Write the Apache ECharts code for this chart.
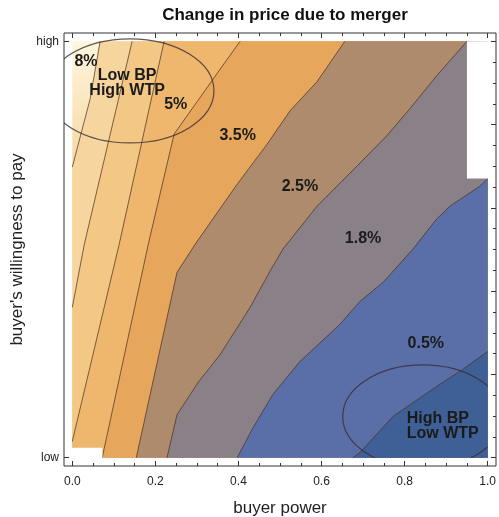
<!DOCTYPE html>
<html>
<head>
<meta charset="utf-8">
<script src="https://cdn.jsdelivr.net/npm/echarts@6/dist/echarts.min.js"></script>
<style>
    html, body { margin: 0; padding: 0; background: #fff; }
    #chart { width: 499px; height: 517px; }
</style>
</head>
<body>
<div id="chart"></div>
<script>
// contour boundaries as [buyer power, willingness to pay], traced from the top/right edge down to the left/bottom edge
const contour1 = [[0.067, 1.0], [0.043, 0.862], [0, 0.698]];
const contour2 = [[0.144, 1.0], [0.029, 0.513], [0, 0.361]];
const contour3 = [[0.221, 1.0], [0.113, 0.513], [0, 0.039]];
const contour4 = [[0.404, 1.0], [0.365, 0.946], [0.245, 0.777], [0.183, 0.513], [0.072, 0]];
const contour5 = [[0.656, 1.0], [0.589, 0.903], [0.524, 0.833], [0.469, 0.753], [0.397, 0.657], [0.296, 0.513], [0.252, 0.445], [0.154, 0]];
const contour6 = [[0.950, 1.0], [0.877, 0.917], [0.8125, 0.838], [0.757, 0.773], [0.685, 0.700], [0.589, 0.604], [0.507, 0.501], [0.476, 0.448], [0.428, 0.361], [0.356, 0.248], [0.303, 0.181], [0.252, 0.103], [0.228, 0]];
const contour7 = [[1.0, 0.67], [0.981, 0.652], [0.909, 0.604], [0.877, 0.573], [0.820, 0.501], [0.748, 0.421], [0.692, 0.375], [0.644, 0.320], [0.548, 0.231], [0.483, 0.152], [0.435, 0.072], [0.397, 0]];
const contour8 = [[1.0, 0.255], [0.940, 0.212], [0.877, 0.171], [0.772, 0.099], [0.692, 0.012], [0.675, 0]];

// areas of the plot with no data: [x0, y0, x1, y1]
const missingAreas = [[0.95, 0.673, 1.0, 1.0], [-0.005, 0, 0.07, 0.024]];

// price change labels and where they sit
const bandLabels = ['8%', '5%', '3.5%', '2.5%', '1.8%', '0.5%'];
const bandLabelPos = [[0.033, 0.952], [0.249, 0.847], [0.398, 0.774], [0.548, 0.650], [0.700, 0.525], [0.851, 0.274]];

// highlighted regions: [cx, cy, rx, ry]
const regionNames = ['Low BP\nHigh WTP', 'High BP\nLow WTP'];
const regionNamePos = [[0.132, 0.900], [0.805, 0.075]];
const regionEllipses = [[0.139, 0.881, 0.202, 0.125], [0.844, 0.099, 0.193, 0.124]];

const xTickValues = [0, 0.2, 0.4, 0.6, 0.8, 1.0];
const xMinorTicks = [0.05, 0.1, 0.15, 0.25, 0.3, 0.35, 0.45, 0.5, 0.55, 0.65, 0.7, 0.75, 0.85, 0.9, 0.95];
const yTickValues = [0, 1];
const yTickLabels = ['low', 'high'];

const contours = [contour1, contour2, contour3, contour4, contour5, contour6, contour7, contour8];

const font = "'Liberation Sans', Arial, sans-serif";
const bandColors = ['#fdf2d4', '#f6d59e', '#f3c784', '#eeb76d', '#e6a65c', '#ae8b6d', '#8a8088', '#5a6fa7', '#3f5f97'];
const lineColor = 'rgba(70, 45, 30, 0.7)';

// close a contour line round the lower right corner of the data area
function lowerRight(line) {
    const pts = line.slice();
    const s = line[0], e = line[line.length - 1];
    if (e[0] === 0) pts.push([0, 0]);
    pts.push([1, 0]);
    if (s[1] === 1) pts.push([1, 1]);
    return pts;
}

function frameAxis(pos, values, len, labels) {
    return {
        type: 'value', min: -0.02, max: 1.02, position: pos,
        axisLine: { show: false, onZero: false },
        splitLine: { show: false },
        axisTick: { inside: true, length: len, customValues: values, lineStyle: { color: '#333', width: 1 } },
        axisLabel: labels ? Object.assign({ customValues: values, color: '#222', fontSize: 12, fontFamily: font }, labels) : { show: false }
    };
}

const myChart = echarts.init(document.getElementById('chart'));

const xBottom = frameAxis('bottom', xTickValues, 5, { margin: 10, formatter: v => v.toFixed(1) });
xBottom.name = 'buyer power';
xBottom.nameLocation = 'middle';
xBottom.nameGap = 34;
xBottom.nameTextStyle = { fontSize: 17, color: '#222', fontFamily: font };

const yLeft = frameAxis('left', yTickValues, 5, { margin: 5, formatter: v => yTickLabels[yTickValues.indexOf(v)] });
yLeft.name = "buyer's willingness to pay";
yLeft.nameLocation = 'middle';
yLeft.nameGap = 38;
yLeft.nameTextStyle = { fontSize: 17, color: '#222', fontFamily: font };

const option = {
    animation: false,
    title: {
        text: 'Change in price due to merger',
        left: 280, top: 2, textAlign: 'center',
        textStyle: { fontSize: 17, fontWeight: 'bold', color: '#111', fontFamily: font }
    },
    grid: {
        left: 64, right: 3, top: 33, bottom: 51,
        show: true, borderColor: '#333', borderWidth: 1,
        outerBoundsMode: 'none'
    },
    xAxis: [
        xBottom,
        frameAxis('bottom', xMinorTicks, 3),
        frameAxis('top', xTickValues, 5),
        frameAxis('top', xMinorTicks, 3)
    ],
    yAxis: [
        yLeft,
        frameAxis('right', xTickValues, 5),
        frameAxis('right', xMinorTicks, 3)
    ],
    series: [
        {
            type: 'custom', z: 2,
            data: bandColors.map((c, i) => [i]),
            renderItem: function (params, api) {
                const k = params.dataIndex;
                if (k === 0) {
                    const p0 = api.coord([0, 0]), p1 = api.coord([1, 1]);
                    const g0 = api.coord([0, 1]), g1 = api.coord([0.08, 0.75]);
                    return {
                        type: 'rect', z2: 0,
                        shape: { x: p0[0], y: p1[1], width: p1[0] - p0[0], height: p0[1] - p1[1] },
                        style: {
                            fill: new echarts.graphic.LinearGradient(g0[0], g0[1], g1[0], g1[1], [
                                { offset: 0, color: '#fef7e0' },
                                { offset: 1, color: '#f8daa6' }
                            ], true)
                        }
                    };
                }
                const line = contours[k - 1];
                return {
                    type: 'group',
                    children: [
                        { type: 'polygon', z2: k, shape: { points: lowerRight(line).map(p => api.coord(p)) }, style: { fill: bandColors[k] } },
                        { type: 'polyline', z2: 50, shape: { points: line.map(p => api.coord(p)) }, style: { fill: null, stroke: lineColor, lineWidth: 1 } }
                    ]
                };
            }
        },
        {
            type: 'custom', z: 3,
            data: missingAreas.map((a, i) => [i]),
            renderItem: function (params, api) {
                const a = missingAreas[params.dataIndex];
                const p0 = api.coord([a[0], a[1]]), p1 = api.coord([a[2], a[3]]);
                return {
                    type: 'rect',
                    shape: { x: p0[0], y: p1[1], width: p1[0] - p0[0] + 1, height: p0[1] - p1[1] + 1 },
                    style: { fill: '#fff' }
                };
            }
        },
        {
            type: 'custom', z: 4, clip: true,
            data: regionEllipses.map((e, i) => [i]),
            renderItem: function (params, api) {
                const e = regionEllipses[params.dataIndex];
                const c = api.coord([e[0], e[1]]);
                const s = api.size([e[2], e[3]]);
                const el = {
                    type: 'ellipse',
                    shape: { cx: c[0], cy: c[1], rx: s[0], ry: s[1] },
                    style: { fill: null, stroke: 'rgba(55, 45, 50, 0.8)', lineWidth: 1.2 }
                };
                if (params.dataIndex === 1) {
                    const p0 = api.coord([0, 0]), p1 = api.coord([1, 1]);
                    el.clipPath = { type: 'rect', shape: { x: p0[0], y: p1[1], width: p1[0] - p0[0], height: p0[1] - p1[1] } };
                }
                return el;
            }
        },
        {
            type: 'custom', z: 5,
            data: bandLabels.concat(regionNames).map((t, i) => [i]),
            renderItem: function (params, api) {
                const i = params.dataIndex;
                const isRegion = i >= bandLabels.length;
                const text = isRegion ? regionNames[i - bandLabels.length] : bandLabels[i];
                const pos = isRegion ? regionNamePos[i - bandLabels.length] : bandLabelPos[i];
                const p = api.coord(pos);
                return {
                    type: 'text', x: p[0], y: p[1],
                    style: {
                        text: text,
                        fill: '#1a1a1a',
                        font: 'bold 16px ' + font,
                        align: (isRegion && i === bandLabels.length + 1) ? 'left' : 'center',
                        verticalAlign: 'middle',
                        lineHeight: 15
                    }
                };
            }
        }
    ]
};

myChart.setOption(option);
</script>
</body>
</html>
